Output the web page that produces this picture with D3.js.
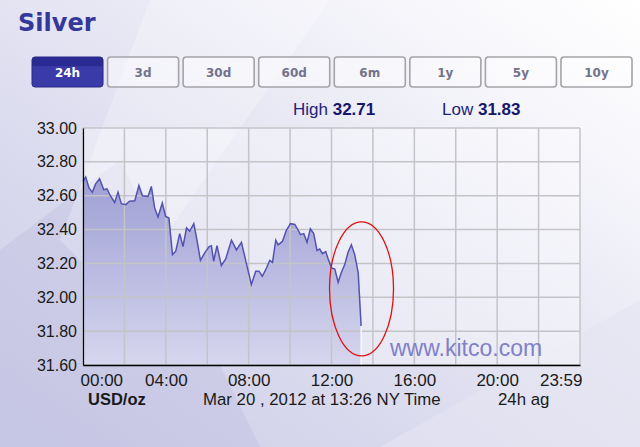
<!DOCTYPE html>
<html><head><meta charset="utf-8">
<script src="https://cdn.jsdelivr.net/npm/d3@7"></script>
<style>html,body{margin:0;padding:0;background:#fff;overflow:hidden}</style>
</head><body>
<svg id="c" width="640" height="447"></svg>
<script>
// ---- data ----
const hours = [0,0.13,0.29,0.45,0.61,0.8,1.0,1.16,1.32,1.53,1.69,1.85,2.06,2.25,2.5,2.7,2.87,3.14,3.3,3.46,3.62,3.83,3.99,4.15,4.32,4.48,4.67,4.83,5.0,5.15,5.35,5.5,5.67,5.88,6.09,6.2,6.31,6.47,6.68,6.89,7.17,7.41,7.65,7.89,8.13,8.34,8.5,8.66,8.86,9.02,9.15,9.31,9.42,9.63,9.82,10.02,10.23,10.39,10.5,10.66,10.82,10.98,11.14,11.3,11.43,11.56,11.72,11.84,12.0,12.16,12.32,12.48,12.64,12.8,12.96,13.12,13.29,13.43];
const prices = [32.685,32.71,32.646,32.62,32.67,32.70,32.636,32.64,32.60,32.56,32.62,32.553,32.547,32.567,32.57,32.66,32.60,32.596,32.655,32.528,32.474,32.557,32.478,32.468,32.252,32.272,32.376,32.30,32.41,32.39,32.435,32.34,32.218,32.262,32.30,32.305,32.213,32.305,32.187,32.226,32.337,32.28,32.325,32.20,32.075,32.154,32.154,32.124,32.173,32.218,32.206,32.337,32.31,32.33,32.396,32.435,32.43,32.396,32.37,32.376,32.325,32.404,32.376,32.277,32.285,32.258,32.27,32.226,32.173,32.167,32.089,32.148,32.193,32.266,32.31,32.252,32.144,31.83];
const xTickHours = [0,4,8,12,16,20,24];
const xTickLabels = ["00:00","04:00","08:00","12:00","16:00","20:00","23:59"];
const yTicks = [31.6,31.8,32.0,32.2,32.4,32.6,32.8,33.0];
const buttons = ["24h","3d","30d","60d","6m","1y","5y","10y"];
const title = "Silver";
const highVal = "32.71", lowVal = "31.83";
const unitLabel = "USD/oz";
const dateLabel = "Mar 20 , 2012 at 13:26 NY Time";
const rightLabel = "24h ag";
const watermark = "www.kitco.com";

// ---- setup ----
const svg = d3.select("#c");
const W = 640, H = 447;
const x = d3.scaleLinear().domain([0,24]).range([83,580]);
const y = d3.scaleLinear().domain([31.6,33.0]).range([365,128]);

const defs = svg.append("defs");
const bg = defs.append("linearGradient").attr("id","bg").attr("x1","0").attr("y1","1").attr("x2","1").attr("y2","0");
bg.append("stop").attr("offset","0").attr("stop-color","#c9c9e6");
bg.append("stop").attr("offset","0.45").attr("stop-color","#e0e0f1");
bg.append("stop").attr("offset","0.8").attr("stop-color","#f6f6fb");
bg.append("stop").attr("offset","1").attr("stop-color","#ffffff");
const ag = defs.append("linearGradient").attr("id","ag").attr("gradientUnits","userSpaceOnUse")
  .attr("x1",0).attr("y1",y(32.75)).attr("x2",0).attr("y2",y(31.6));
ag.append("stop").attr("offset","0").attr("stop-color","#9d9dd3");
ag.append("stop").attr("offset","0.45").attr("stop-color","#b6b6e0");
ag.append("stop").attr("offset","1").attr("stop-color","#d6d6ee");
const btnG = defs.append("linearGradient").attr("id","btn").attr("x1",0).attr("y1",0).attr("x2",0).attr("y2",1);
btnG.append("stop").attr("offset","0").attr("stop-color","#2a2a92");
btnG.append("stop").attr("offset","0.3").attr("stop-color","#2a2a92");
btnG.append("stop").attr("offset","0.32").attr("stop-color","#3a3aa8");
btnG.append("stop").attr("offset","1").attr("stop-color","#3a3aa8");

svg.append("rect").attr("width",W).attr("height",H).attr("fill","url(#bg)");
// soft decorative shapes
svg.append("path").attr("d","M0,447 L0,250 L120,160 L260,447 Z").attr("fill","#c2c2e2").attr("opacity",0.45);
svg.append("path").attr("d","M150,0 L330,0 L120,300 L60,240 Z").attr("fill","#ffffff").attr("opacity",0.25);
svg.append("path").attr("d","M380,447 L640,300 L640,447 Z").attr("fill","#e4e4f2").attr("opacity",0.6);

// title
svg.append("text").attr("x",18).attr("y",31).text(title)
  .attr("font-family","DejaVu Sans, Verdana, sans-serif").attr("font-weight","bold")
  .attr("font-size",24).attr("fill","#34389a");

// buttons
const bx = d3.scaleBand().domain(buttons).range([32,632]).paddingInner(0.06).paddingOuter(0);
const bgp = svg.append("g");
buttons.forEach((b,i)=>{
  const g = bgp.append("g").attr("transform",`translate(${bx(b)},57)`);
  g.append("rect").attr("width",bx.bandwidth()).attr("height",30).attr("rx",3)
    .attr("fill", i===0 ? "url(#btn)" : "rgba(255,255,255,0.45)")
    .attr("stroke", i===0 ? "#2a2a8a" : "#a4a4a8").attr("stroke-width", i===0?1:1.6);
  g.append("text").attr("x",bx.bandwidth()/2).attr("y",20).attr("text-anchor","middle")
    .attr("font-family","DejaVu Sans, Verdana, sans-serif").attr("font-weight","bold")
    .attr("font-size",12).attr("fill", i===0 ? "#ffffff" : "#72728c").text(b);
});

// high / low
const hl = svg.append("text").attr("y",115).attr("font-family","Liberation Sans, Arial, sans-serif").attr("font-size",17).attr("fill","#22227a");
hl.append("tspan").attr("x",293).text("High ");
hl.append("tspan").attr("font-weight","bold").attr("fill","#16166a").text(highVal);
const lo = svg.append("text").attr("y",115).attr("font-family","Liberation Sans, Arial, sans-serif").attr("font-size",17).attr("fill","#22227a");
lo.append("tspan").attr("x",442).text("Low ");
lo.append("tspan").attr("font-weight","bold").attr("fill","#16166a").text(lowVal);

// plot background
svg.append("rect").attr("x",x(0)).attr("y",y(33)).attr("width",x(24)-x(0)).attr("height",y(31.6)-y(33))
  .attr("fill","#ffffff").attr("opacity",0.35);

// area
const pts = hours.map((h,i)=>[h,prices[i]]);
svg.append("path").datum(pts)
  .attr("d", d3.area().x(d=>x(d[0])).y0(y(31.6)).y1(d=>y(d[1]))(pts))
  .attr("fill","url(#ag)");

// grid
const grid = svg.append("g").attr("stroke","#c4c4c8").attr("stroke-width",1.5);
d3.range(0,25,2).forEach(h=>{
  grid.append("line").attr("x1",x(h)).attr("x2",x(h)).attr("y1",y(33)).attr("y2",y(31.6));
});
yTicks.forEach(v=>{
  grid.append("line").attr("x1",x(0)).attr("x2",x(24)).attr("y1",y(v)).attr("y2",y(v));
});

// watermark
svg.append("text").attr("x",390).attr("y",356).text(watermark)
  .attr("font-family","Liberation Sans, Arial, sans-serif").attr("font-size",23)
  .attr("fill","#8080c8");

// current time marker
svg.append("line").attr("x1",x(13.43)).attr("x2",x(13.43)).attr("y1",y(31.83)).attr("y2",y(31.6))
  .attr("stroke","#ffffff").attr("stroke-width",1.5).attr("opacity",0.8);

// line
svg.append("path").datum(pts)
  .attr("d", d3.line().x(d=>x(d[0])).y(d=>y(d[1]))(pts))
  .attr("fill","none").attr("stroke","#5252b2").attr("stroke-width",1.5);

// axes
const yAxis = d3.axisLeft(y).tickValues(yTicks).tickFormat(d3.format(".2f")).tickSize(0).tickPadding(6);
const ya = svg.append("g").attr("transform",`translate(${x(0)},0)`).call(yAxis);
ya.select(".domain").attr("stroke","#000").attr("stroke-width",1.2);
ya.selectAll("text").attr("font-family","Liberation Sans, Arial, sans-serif").attr("font-size",16).attr("fill","#1a1a1a");

const xAxis = d3.axisBottom(x).tickValues(xTickHours).tickFormat((d,i)=>xTickLabels[i]).tickSize(0).tickPadding(9);
const xa = svg.append("g").attr("transform",`translate(0,${y(31.6)})`).call(xAxis);
xa.select(".domain").attr("stroke","#000").attr("stroke-width",1.4);
xa.selectAll("text").attr("font-family","Liberation Sans, Arial, sans-serif").attr("font-size",17).attr("fill","#1a1a1a")
  .attr("text-anchor",(d,i)=> i===0 ? "start" : (i===xTickHours.length-1 ? "end" : "middle"))
  .attr("dx",(d,i)=> i===0 ? -3 : (i===xTickHours.length-1 ? 2 : 0));

// bottom labels
svg.append("text").attr("x",88).attr("y",405).text(unitLabel)
  .attr("font-family","Liberation Sans, Arial, sans-serif").attr("font-weight","bold").attr("font-size",16.5).attr("fill","#1a1a1a");
svg.append("text").attr("x",203).attr("y",405).text(dateLabel)
  .attr("font-family","Liberation Sans, Arial, sans-serif").attr("font-size",16.8).attr("fill","#1a1a1a");
svg.append("text").attr("x",498).attr("y",405).text(rightLabel)
  .attr("font-family","Liberation Sans, Arial, sans-serif").attr("font-size",16.8).attr("fill","#1a1a1a");

// red ellipse annotation
svg.append("ellipse").attr("cx",x(13.45)).attr("cy",y(32.05)).attr("rx",32).attr("ry",67)
  .attr("fill","none").attr("stroke","#e01010").attr("stroke-width",1.3);
</script>
</body></html>
